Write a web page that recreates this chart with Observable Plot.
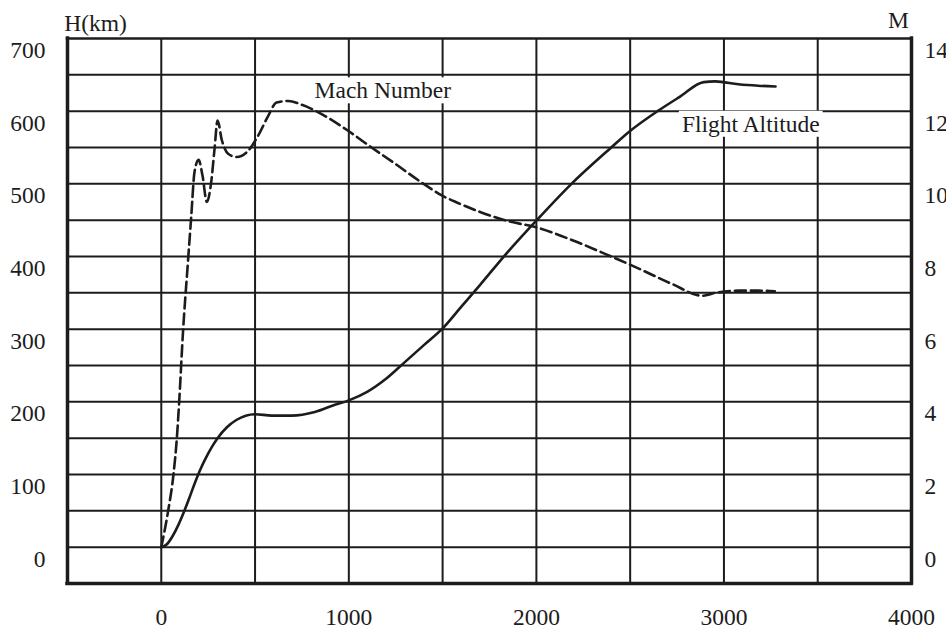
<!DOCTYPE html>
<html><head><meta charset="utf-8">
<script src="https://cdn.jsdelivr.net/npm/d3@7"></script>
<script src="https://cdn.jsdelivr.net/npm/@observablehq/plot@0.6"></script>
<style>body{margin:0;background:#fff;}</style>
</head><body><div id="chart"></div>
<script>
// Flight altitude H (km) vs time
const altTime = [0, 30, 60, 90, 120, 150, 180, 210, 240, 270, 300, 350, 400, 450, 500, 589, 695, 819, 926, 1000, 1100, 1200, 1300, 1400, 1500, 1600, 1700, 1840, 2002, 2187, 2399, 2501, 2646, 2760, 2892, 2954, 3077, 3183, 3275];
const altitude = [0, 4, 15, 30, 48, 68, 89, 108, 124, 138, 150, 165, 175, 181, 183, 181, 181, 186, 196, 202, 214, 232, 255, 278, 301, 331, 361, 404, 450, 500, 550, 573, 600, 619, 640, 641, 637, 635, 634];
// Mach number vs time
const machTime = [0, 36, 65, 83, 95, 116, 142, 160, 177, 199, 220, 243, 266, 284, 300, 323, 358, 402, 465, 518, 571, 615, 677, 748, 855, 996, 1121, 1245, 1387, 1496, 1579, 1703, 1844, 2002, 2196, 2372, 2549, 2725, 2884, 2954, 3077, 3183, 3271];
const mach = [0, 0.98, 2.0, 3.0, 3.96, 5.94, 7.84, 9.12, 10.32, 10.66, 10.22, 9.5, 10.04, 10.96, 11.74, 11.2, 10.82, 10.74, 10.92, 11.34, 11.88, 12.24, 12.28, 12.18, 11.92, 11.46, 11.0, 10.56, 10.04, 9.68, 9.48, 9.22, 8.98, 8.8, 8.44, 8.06, 7.66, 7.24, 6.92, 7.0, 7.06, 7.06, 7.04];
// axes
const hTicks = [0, 100, 200, 300, 400, 500, 600, 700];
const xTicks = [0, 1000, 2000, 3000, 4000];
const gridH = [0, 50, 100, 150, 200, 250, 300, 350, 400, 450, 500, 550, 600, 650];
const gridX = [0, 500, 1000, 1500, 2000, 2500, 3000, 3500];
const xDomain = [-500, 4000];
const hDomain = [-50, 700];
const machPerKm = 1 / 50;
// curve labels
const curveLabels = ["Mach Number", "Flight Altitude"];
const labelX = [1181, 3143];
const labelH = [628, 582];

const altData = altTime.map((t, i) => ({t, h: altitude[i]}));
const machData = machTime.map((t, i) => ({t, m: mach[i]}));
const labelData = curveLabels.map((text, i) => ({text, t: labelX[i], h: labelH[i]}));
const ink = "#1c1c1c";

const plot = Plot.plot({
  width: 946, height: 630,
  marginLeft: 67, marginRight: 35, marginTop: 38, marginBottom: 47,
  style: {fontFamily: "'Liberation Serif', 'Times New Roman', serif", fontSize: "23.5px", color: ink, background: "#fff"},
  x: {domain: xDomain},
  y: {domain: hDomain},
  marks: [
    Plot.ruleY(gridH, {stroke: ink, strokeWidth: 2}),
    Plot.ruleX(gridX, {stroke: ink, strokeWidth: 2}),
    Plot.text(labelData, {x: "t", y: "h", text: "text", fill: ink}),
    Plot.line(altData, {x: "t", y: "h", stroke: ink, strokeWidth: 2.6, curve: "monotone-x"}),
    Plot.line(machData, {x: "t", y: d => d.m / machPerKm, stroke: ink, strokeWidth: 2.6, strokeDasharray: "11,5", curve: "monotone-x"}),
    Plot.ruleX([xDomain[0], xDomain[1]], {stroke: ink, strokeWidth: 3.5, strokeLinecap: "square"}),
    Plot.ruleY([hDomain[0]], {stroke: ink, strokeWidth: 3.5, strokeLinecap: "square"}),
    Plot.ruleY([hDomain[1]], {stroke: ink, strokeWidth: 2.6, strokeLinecap: "square"}),
    Plot.axisY(hTicks, {anchor: "left", tickSize: 0, tickPadding: 22, dy: 12, label: null, tickFormat: d => String(d)}),
    Plot.axisY(hTicks, {anchor: "right", tickSize: 0, tickPadding: 13, dy: 12, label: null, tickFormat: d => String(d * machPerKm)}),
    Plot.axisX(xTicks, {anchor: "bottom", tickSize: 0, tickPadding: 25, label: null, tickFormat: d => String(d)}),
    Plot.text(["H(km)"], {frameAnchor: "top-left", textAnchor: "middle", lineAnchor: "middle", dx: 28, dy: -15, fill: ink}),
    Plot.text(["M"], {frameAnchor: "top-right", textAnchor: "middle", lineAnchor: "middle", dx: -13, dy: -18, fill: ink})
  ]
});
document.getElementById("chart").append(plot);

// white boxes behind the curve labels
d3.select(plot).selectAll("text")
  .filter(function() { return curveLabels.includes(this.textContent); })
  .each(function() {
    const b = this.getBBox();
    const r = document.createElementNS("http://www.w3.org/2000/svg", "rect");
    r.setAttribute("x", b.x - 3);
    r.setAttribute("y", b.y);
    r.setAttribute("width", b.width + 6);
    r.setAttribute("height", b.height);
    r.setAttribute("fill", "#fff");
    const tr = this.getAttribute("transform");
    if (tr) r.setAttribute("transform", tr);
    this.parentNode.insertBefore(r, this);
  });
</script>
</body></html>
